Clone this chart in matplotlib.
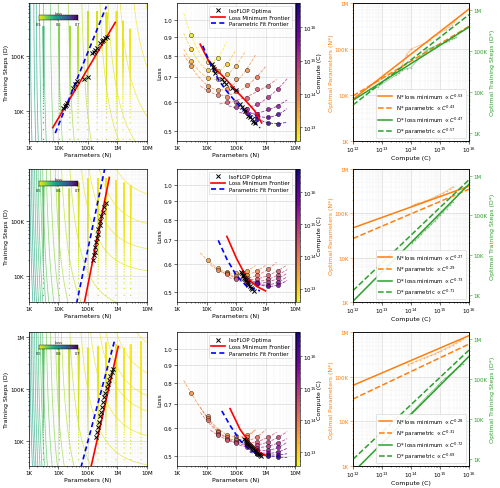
import numpy as np
import matplotlib
matplotlib.use("Agg")
import matplotlib.pyplot as plt
from matplotlib.colors import LogNorm, Normalize
from matplotlib.cm import ScalarMappable
from matplotlib.ticker import FuncFormatter, FixedLocator, NullFormatter

ORANGE = "#ff7f0e"
GREEN = "#2ca02c"

# ---------------- shared ----------------
FIT_C = [1e12, 1e16]          # compute at which the fitted lines are read
EVAL_EVERY = 1500             # checkpoint interval of the training runs
COMPUTE_RANGE = [3.8e12, 5.4e16]

# ---------------- experiment 1 (top row) ----------------
r1_run_N = [3.2e3, 1.1e4, 2.5e4, 4.7e4, 1.0e5, 2.1e5, 4.3e5, 9.4e5, 1.55e6, 2.7e6]
r1_run_D = [3.4e5, 3.4e5, 3.4e5, 3.4e5, 6.3e5, 6.3e5, 6.0e5, 6.3e5, 4.2e5, 3.0e5]
r1_surface = [0.459, 13.5, 0.40, 0.54, 0.30]      # E, A, alpha, B, beta
r1_levels = [0.49, 0.50, 0.517, 0.54, 0.56, 0.63, 0.714, 0.806, 0.90, 1.0,
             1.073, 1.137, 1.19, 1.274]
r1_cnorm = [0.46, 2.2]
r1_left_ylim = [2.8e3, 9e5]
r1_left_loss_N = [6.6e3, 8.5e5]
r1_left_loss_D = [4.9e3, 4.0e5]
r1_left_par_N = [8.0e3, 4.25e5]
r1_left_par_D = [3.9e3, 7.8e5]
r1_N_loss = [8.1e3, 7.4e5]
r1_N_par = [9.6e3, 3.1e5]
r1_D_loss = [6.4e3, 3.9e5]
r1_D_par = [4.9e3, 7.8e5]
r1_exps = ["0.53", "0.43", "0.47", "0.57"]
r1_opt_C = [3.5e12, 4.5e12, 5.5e12, 7e12, 3e13, 4e13, 5e13, 7e13, 1e14,
            3.5e14, 4.5e14, 5.5e14, 7e14, 1.6e15, 2e15, 2.5e15, 3e15, 3.6e15]
r1_opt_N = [1.5e4, 1.7e4, 1.85e4, 2e4, 3.3e4, 3.8e4, 4.5e4, 7.5e4, 1e5,
            1.4e5, 1.6e5, 1.8e5, 2e5, 2.65e5, 3e5, 3.4e5, 3.9e5, 4.45e5]
r1_opt_D = [1.1e4, 1.2e4, 1.25e4, 1.35e4, 2.6e4, 3e4, 3.4e4, 3.8e4, 4e4,
            1.1e5, 1.18e5, 1.25e5, 1.35e5, 1.67e5, 1.8e5, 1.95e5, 2.05e5, 2.2e5]
r1_opt_L = [0.76, 0.745, 0.735, 0.72, 0.69, 0.68, 0.67, 0.655, 0.645,
            0.59, 0.58, 0.575, 0.565, 0.55, 0.545, 0.538, 0.53, 0.525]
r1_iso_C = [5e12, 1e13, 2e13, 5e13, 1e14, 3e14, 1e15, 3e15, 1e16, 3e16]
r1_iso_N = [[3e3, 1.1e4, 2.4e4],
            [3e3, 1.1e4, 2.4e4, 4.9e4],
            [3e3, 1.1e4, 2.4e4, 4.9e4, 1e5],
            [3e3, 1.1e4, 2.4e4, 4.9e4, 1e5, 2.3e5],
            [1.1e4, 2.4e4, 4.9e4, 1e5, 2.3e5, 5.2e5],
            [4.9e4, 1e5, 2.3e5, 5.2e5, 1.2e6],
            [1e5, 2.3e5, 5.2e5, 1.2e6, 2.7e6],
            [2.3e5, 5.2e5, 1.2e6, 2.7e6],
            [5.2e5, 1.2e6, 2.7e6],
            [5.2e5, 1.2e6, 2.7e6]]
r1_iso_L = [[0.91, 0.77, 0.79],
            [0.835, 0.73, 0.725, 0.76],
            [0.775, 0.695, 0.69, 0.715, 0.75],
            [0.75, 0.66, 0.645, 0.65, 0.69, 0.73],
            [0.645, 0.625, 0.62, 0.64, 0.665, 0.70],
            [0.60, 0.60, 0.615, 0.65, 0.66],
            [0.58, 0.575, 0.59, 0.62, 0.65],
            [0.56, 0.555, 0.575, 0.585],
            [0.55, 0.545, 0.555],
            [0.54, 0.527, 0.524]]
r1_mid_loss_N = [6.1e3, 1.17e4, 2.25e4, 4.9e4, 1.06e5, 2.3e5, 4.4e5, 7.4e5]
r1_mid_loss_L = [0.859, 0.775, 0.73, 0.686, 0.64, 0.60, 0.566, 0.526]
r1_mid_par_N = [7.5e3, 1.34e4, 2.5e4, 4.9e4, 1.07e5, 2.3e5, 6.5e5]
r1_mid_par_L = [0.85, 0.76, 0.69, 0.64, 0.595, 0.56, 0.51]

# ---------------- experiment 2 (middle row) ----------------
r2_run_N = [3.2e3, 1.1e4, 2.4e4, 4.9e4, 1.0e5, 2.25e5, 4.1e5, 9e5, 1.7e6, 2.8e6]
r2_run_D = [4.7e5, 3.9e5, 3.9e5, 5e5, 6e5, 6e5, 6e5, 5.5e5, 5e5, 4.5e5]
r2_surface = [0.48, 25.0, 0.60, 0.50, 0.245]
r2_levels = [0.504, 0.512, 0.521, 0.531, 0.555, 0.582, 0.611, 0.64, 0.67,
             0.702, 0.726, 0.751, 0.771, 0.796, 0.821, 0.844, 0.872]
r2_cnorm = [0.49, 1.34]
r2_left_ylim = [3.4e3, 9e5]
r2_left_loss_N = [7.6e4, 5.35e5]
r2_left_loss_D = [3.2e3, 6.3e5]
r2_left_par_N = [4.2e4, 3.8e5]
r2_left_par_D = [3.2e3, 9.5e5]
r2_N_loss = [4.7e4, 4.1e5]
r2_N_par = [2.7e4, 3.5e5]
r2_D_loss = [6.8e2, 6.2e5]
r2_D_par = [1.26e3, 8.0e5]
r2_exps = ["0.27", "0.29", "0.73", "0.71"]
r2_opt_C = [1.1e14, 1.4e14, 1.8e14, 2.3e14, 3e14, 4e14, 5e14, 6.5e14, 8e14,
            1e15, 1.3e15, 1.7e15, 2.2e15, 2.8e15]
r2_opt_N = [1.5e5, 1.6e5, 1.7e5, 1.75e5, 1.9e5, 2e5, 2.15e5, 2.3e5, 2.5e5,
            2.65e5, 2.9e5, 3.2e5, 3.6e5, 4e5]
r2_opt_D = [2e4, 2.4e4, 2.8e4, 3.4e4, 4.2e4, 5e4, 6e4, 7.2e4, 8.5e4,
            1e5, 1.25e5, 1.5e5, 1.85e5, 2.2e5]
r2_opt_L = [0.57, 0.565, 0.56, 0.555, 0.55, 0.545, 0.54, 0.535, 0.53,
            0.525, 0.52, 0.515, 0.51, 0.505]
r2_iso_C = [3e13, 6e13, 1.2e14, 2.5e14, 5e14, 1e15, 2.5e15, 6e15]
r2_iso_N = [[1.1e4, 2.4e4, 4.9e4, 1e5, 2.3e5],
            [2.4e4, 4.9e4, 1e5, 2.3e5, 5.2e5],
            [4.9e4, 1e5, 2.3e5, 5.2e5, 1.2e6],
            [1e5, 2.3e5, 5.2e5, 1.2e6, 2.7e6],
            [2.3e5, 5.2e5, 1.2e6, 2.7e6],
            [5.2e5, 1.2e6, 2.7e6],
            [5.2e5, 1.2e6, 2.7e6],
            [5.2e5, 1.2e6, 2.7e6]]
r2_iso_L = [[0.615, 0.584, 0.57, 0.565, 0.575],
            [0.578, 0.565, 0.555, 0.56, 0.575],
            [0.562, 0.55, 0.548, 0.56, 0.58],
            [0.545, 0.54, 0.545, 0.56, 0.575],
            [0.535, 0.535, 0.545, 0.56],
            [0.53, 0.535, 0.548],
            [0.528, 0.525, 0.535],
            [0.53, 0.52, 0.525]]
r2_mid_loss_N = [4.9e4, 1.05e5, 2.3e5, 5e5, 1e6]
r2_mid_loss_L = [0.718, 0.622, 0.55, 0.52, 0.505]
r2_mid_par_N = [2.5e4, 4.9e4, 1e5, 2.3e5, 6.5e5]
r2_mid_par_L = [0.70, 0.62, 0.56, 0.52, 0.505]

# ---------------- experiment 3 (bottom row) ----------------
r3_run_N = [3.2e3, 1.1e4, 2.4e4, 4.9e4, 1.0e5, 2.25e5, 4.1e5, 9e5, 1.7e6, 2.8e6, 6.3e6]
r3_run_D = [6e5, 6e5, 6e5, 6e5, 6e5, 6.5e5, 7.5e5, 7e5, 6e5, 7e5, 8e5]
r3_surface = [0.47, 20.0, 0.55, 0.45, 0.25]
r3_levels = [0.488, 0.494, 0.50, 0.505, 0.515, 0.531, 0.56, 0.593, 0.626,
             0.659, 0.692, 0.728, 0.754, 0.781, 0.803, 0.829, 0.856, 0.88, 0.908]
r3_cnorm = [0.48, 1.44]
r3_left_ylim = [3.4e3, 1.2e6]
r3_left_loss_N = [1.28e5, 1.07e6]
r3_left_loss_D = [3.2e3, 6.5e5]
r3_left_par_N = [5.9e4, 8.3e5]
r3_left_par_D = [3.2e3, 9.0e5]
r3_N_loss = [6.5e4, 8.5e5]
r3_N_par = [3.2e4, 5.5e5]
r3_D_loss = [4.5e2, 3.75e5]
r3_D_par = [9.6e2, 5.4e5]
r3_exps = ["0.28", "0.31", "0.72", "0.69"]
r3_opt_C = [8e13, 1.1e14, 1.5e14, 2e14, 2.7e14, 3.6e14, 4.8e14, 6.5e14,
            8.5e14, 1.1e15, 1.5e15, 2e15, 2.7e15, 3.6e15, 4.8e15, 6e15]
r3_opt_N = [1.9e5, 2.1e5, 2.25e5, 2.45e5, 2.65e5, 2.85e5, 3.05e5, 3.3e5,
            3.6e5, 3.9e5, 4.3e5, 4.7e5, 5.2e5, 5.8e5, 6.4e5, 7e5]
r3_opt_D = [1.2e4, 1.5e4, 1.9e4, 2.4e4, 3e4, 3.7e4, 4.6e4, 5.7e4,
            7e4, 8.5e4, 1.05e5, 1.25e5, 1.5e5, 1.8e5, 2.1e5, 2.4e5]
r3_opt_L = [0.56, 0.555, 0.55, 0.545, 0.54, 0.537, 0.533, 0.53,
            0.527, 0.523, 0.52, 0.516, 0.512, 0.508, 0.505, 0.502]
r3_iso_C = [5e13, 8e13, 1.5e14, 3e14, 6e14, 1.2e15, 2.5e15, 5e15, 1.2e16, 3e16]
r3_iso_N = [[3e3, 1.1e4, 2.4e4, 4.9e4, 1e5, 2.3e5],
            [1.1e4, 2.4e4, 4.9e4, 1e5, 2.3e5],
            [1.1e4, 2.4e4, 4.9e4, 1e5, 2.3e5, 5.2e5],
            [2.4e4, 4.9e4, 1e5, 2.3e5, 5.2e5, 1.2e6],
            [1e5, 2.3e5, 5.2e5, 1.2e6, 2.7e6],
            [2.3e5, 5.2e5, 1.2e6, 2.7e6],
            [5.2e5, 1.2e6, 2.7e6],
            [5.2e5, 1.2e6, 2.7e6],
            [5.2e5, 1.2e6, 2.7e6],
            [5.2e5, 1.2e6, 2.7e6]]
r3_iso_L = [[0.75, 0.65, 0.59, 0.575, 0.57, 0.572],
            [0.64, 0.585, 0.565, 0.56, 0.565],
            [0.63, 0.578, 0.56, 0.555, 0.555, 0.565],
            [0.575, 0.555, 0.548, 0.545, 0.55, 0.565],
            [0.545, 0.537, 0.538, 0.55, 0.565],
            [0.532, 0.528, 0.535, 0.545],
            [0.522, 0.52, 0.53],
            [0.515, 0.51, 0.515],
            [0.51, 0.505, 0.505],
            [0.508, 0.502, 0.498]]
r3_mid_loss_N = [6.3e4, 1.37e5, 3e5, 6.5e5, 1e6]
r3_mid_loss_L = [0.68, 0.595, 0.544, 0.512, 0.503]
r3_mid_par_N = [3.3e4, 6.3e4, 1.37e5, 3e5, 6.5e5]
r3_mid_par_L = [0.67, 0.61, 0.554, 0.52, 0.508]


def row(p):
    g = globals()
    keys = ["run_N", "run_D", "surface", "levels", "cnorm", "left_ylim",
            "left_loss_N", "left_loss_D", "left_par_N", "left_par_D",
            "N_loss", "N_par", "D_loss", "D_par", "exps", "opt_C", "opt_N",
            "opt_D", "opt_L", "iso_C", "iso_N", "iso_L", "mid_loss_N",
            "mid_loss_L", "mid_par_N", "mid_par_L"]
    return {k: g[p + "_" + k] for k in keys}


ROWS = [row("r1"), row("r2"), row("r3")]

FS_TICK = 4.0
FS_LAB = 4.5
FS_LEG = 3.9
CNORM = LogNorm(*COMPUTE_RANGE)
CMAP_C = plt.get_cmap("plasma_r")


def kfmt(v, pos):
    if v >= 1e6:
        return "%gM" % (v / 1e6)
    if v >= 1e3:
        return "%gK" % (v / 1e3)
    return "%g" % v


def power_line(C, ends):
    # straight line in log-log through the fitted values at FIT_C
    slope = np.log10(ends[1] / ends[0]) / np.log10(FIT_C[1] / FIT_C[0])
    return ends[0] * (C / FIT_C[0]) ** slope


def style(ax):
    ax.tick_params(which="both", labelsize=FS_TICK, width=0.4, pad=1.2)
    ax.tick_params(which="major", length=2)
    ax.tick_params(which="minor", length=1)
    ax.grid(True, which="major", color="0.82", lw=0.4)
    ax.grid(True, which="minor", color="0.93", lw=0.3)
    for s in ax.spines.values():
        s.set_linewidth(0.5)


def left_panel(ax, r):
    E, A, al, B, be = r["surface"]
    n = np.logspace(3, 7, 260)
    d = np.logspace(3.2, 6.3, 260)
    NN, DD = np.meshgrid(n, d)
    LL = E + A * NN ** -al + B * DD ** -be
    norm = Normalize(*r["cnorm"])
    ax.contour(NN, DD, LL, levels=sorted(r["levels"]), cmap="viridis_r",
               norm=norm, linewidths=0.55, alpha=0.75)
    for nr, dm in zip(r["run_N"], r["run_D"]):
        steps = np.arange(EVAL_EVERY, dm + 1, EVAL_EVERY)
        loss = E + A * nr ** -al + B * steps ** -be
        ax.scatter(np.full(steps.shape, nr), steps, c=loss, cmap="viridis_r",
                   norm=norm, s=0.9, lw=0, zorder=2)
    ax.plot(r["left_loss_N"], r["left_loss_D"], color="red", lw=1.2, zorder=4)
    ax.plot(r["left_par_N"], r["left_par_D"], color="blue", lw=1.2,
            ls=(0, (3, 2)), zorder=4)
    ax.scatter(r["opt_N"], r["opt_D"], marker="x", color="black", s=9,
               lw=0.7, zorder=5)
    ax.set_xscale("log")
    ax.set_yscale("log")
    ax.set_xlim(1e3, 1e7)
    ax.set_ylim(*r["left_ylim"])
    ax.xaxis.set_major_locator(FixedLocator([1e3, 1e4, 1e5, 1e6, 1e7]))
    ax.xaxis.set_major_formatter(FuncFormatter(kfmt))
    ax.yaxis.set_major_formatter(FuncFormatter(kfmt))
    ax.xaxis.set_minor_formatter(NullFormatter())
    ax.yaxis.set_minor_formatter(NullFormatter())
    ax.set_xlabel("Parameters (N)", fontsize=FS_LAB, labelpad=1)
    ax.set_ylabel("Training Steps (D)", fontsize=FS_LAB, labelpad=1)
    style(ax)
    cax = ax.inset_axes([0.085, 0.875, 0.33, 0.035])
    cb = plt.colorbar(ScalarMappable(Normalize(0.5, 0.7), "viridis_r"),
                      cax=cax, orientation="horizontal")
    cb.set_ticks([0.5, 0.6, 0.7])
    cb.ax.tick_params(labelsize=2.5, length=1, width=0.3, pad=0.5)
    cb.outline.set_linewidth(0.3)
    cb.ax.set_title("Loss", fontsize=2.5, pad=0.8)


def middle_panel(ax, cax, r):
    for C, ns, ls in zip(r["iso_C"], r["iso_N"], r["iso_L"]):
        col = CMAP_C(CNORM(C))
        x = np.log10(ns)
        coef = np.polyfit(x, ls, 2)
        xx = np.linspace(x.min() - 0.25, x.max() + 0.3, 60)
        ax.plot(10 ** xx, np.polyval(coef, xx), ls="--", color=col, lw=0.6,
                alpha=0.8, zorder=2)
        ax.scatter(ns, ls, color=col, edgecolor="black", lw=0.35, s=9,
                   alpha=0.85, zorder=3)
    ax.scatter(r["opt_N"], r["opt_L"], marker="x", color="black", s=9,
               lw=0.7, zorder=5, label="IsoFLOP Optima")
    ax.plot(r["mid_loss_N"], r["mid_loss_L"], color="red", lw=1.2, zorder=4,
            label="Loss Minimum Frontier")
    ax.plot(r["mid_par_N"], r["mid_par_L"], color="blue", lw=1.2,
            ls=(0, (3, 2)), zorder=4, label="Parametric Fit Frontier")
    ax.set_xscale("log")
    ax.set_yscale("log")
    ax.set_xlim(1e3, 1e7)
    ax.set_ylim(0.47, 1.11)
    ax.xaxis.set_major_locator(FixedLocator([1e3, 1e4, 1e5, 1e6, 1e7]))
    ax.xaxis.set_major_formatter(FuncFormatter(kfmt))
    ax.xaxis.set_minor_formatter(NullFormatter())
    ax.yaxis.set_major_locator(FixedLocator([0.5, 0.6, 0.7, 0.8, 0.9, 1.0]))
    ax.yaxis.set_major_formatter(FuncFormatter(lambda v, p: "%.1f" % v))
    ax.yaxis.set_minor_formatter(NullFormatter())
    ax.set_xlabel("Parameters (N)", fontsize=FS_LAB, labelpad=1)
    ax.set_ylabel("Loss", fontsize=FS_LAB, labelpad=1)
    style(ax)
    ax.legend(loc="upper right", fontsize=FS_LEG, framealpha=0.9,
              borderpad=0.4, labelspacing=0.3, handlelength=2.5,
              edgecolor="0.8", fancybox=True).get_frame().set_linewidth(0.4)
    cb = plt.colorbar(ScalarMappable(CNORM, CMAP_C), cax=cax)
    cb.ax.tick_params(labelsize=FS_TICK, width=0.4, length=1.5, pad=0.8)
    cb.ax.tick_params(which="minor", length=1, width=0.3)
    cb.outline.set_linewidth(0.4)
    cb.set_label("Compute (C)", fontsize=FS_LAB, labelpad=0.5)


def right_panel(ax, r):
    C = np.logspace(12, 16, 50)
    ax2 = ax.twinx()
    e = r["exps"]
    h1, = ax.plot(C, power_line(C, r["N_loss"]), color=ORANGE, lw=1.1,
                  label="N* loss minimum $\\propto C^{%s}$" % e[0])
    h2, = ax.plot(C, power_line(C, r["N_par"]), color=ORANGE, lw=1.1,
                  ls="--", label="N* parametric $\\propto C^{%s}$" % e[1])
    ax.plot(r["opt_C"], r["opt_N"], color=ORANGE, lw=0.6, alpha=0.5,
            marker="+", ms=2, mew=0.4)
    h3, = ax2.plot(C, power_line(C, r["D_loss"]), color=GREEN, lw=1.1,
                   label="D* loss minimum $\\propto C^{%s}$" % e[2])
    h4, = ax2.plot(C, power_line(C, r["D_par"]), color=GREEN, lw=1.1,
                   ls="--", label="D* parametric $\\propto C^{%s}$" % e[3])
    ax2.plot(r["opt_C"], r["opt_D"], color=GREEN, lw=0.6, alpha=0.5,
             marker="+", ms=2, mew=0.4)
    for a, lim in ((ax, (1e3, 1e6)), (ax2, (650, 1.5e6))):
        a.set_xscale("log")
        a.set_yscale("log")
        a.set_ylim(*lim)
        a.yaxis.set_major_locator(FixedLocator([1e3, 1e4, 1e5, 1e6]))
        a.yaxis.set_major_formatter(FuncFormatter(kfmt))
        a.yaxis.set_minor_formatter(NullFormatter())
    ax.set_xlim(1e12, 1e16)
    ax.xaxis.set_major_locator(FixedLocator([1e12, 1e13, 1e14, 1e15, 1e16]))
    ax.xaxis.set_minor_formatter(NullFormatter())
    style(ax)
    ax2.tick_params(which="both", labelsize=FS_TICK, width=0.4, pad=1.2,
                    colors=GREEN)
    ax2.tick_params(which="major", length=2)
    ax2.tick_params(which="minor", length=1)
    ax.tick_params(axis="y", which="both", colors=ORANGE)
    ax.tick_params(axis="x", pad=0.8)
    ax.set_xlabel("Compute (C)", fontsize=FS_LAB, labelpad=0.5)
    ax.set_ylabel("Optimal Parameters (N*)", fontsize=FS_LAB, color=ORANGE,
                  labelpad=0.3)
    ax2.set_ylabel("Optimal Training Steps (D*)", fontsize=FS_LAB,
                   color=GREEN, labelpad=2)
    for s in ax2.spines.values():
        s.set_linewidth(0.5)
    leg = ax2.legend(handles=[h1, h2, h3, h4], loc="lower right",
                     fontsize=FS_LEG, framealpha=0.9, borderpad=0.4,
                     labelspacing=0.35, handlelength=2.5, edgecolor="0.8")
    leg.get_frame().set_linewidth(0.4)


fig = plt.figure(figsize=(5.0, 4.89), dpi=100)
row_y = [(0.7096, 0.2822), (0.3804, 0.2720), (0.0450, 0.2730)]
for r, (b, h) in zip(ROWS, row_y):
    left_panel(fig.add_axes([0.057, b, 0.237, h]), r)
    middle_panel(fig.add_axes([0.354, b, 0.236, h]),
                 fig.add_axes([0.591, b, 0.008, h]), r)
    right_panel(fig.add_axes([0.706, b, 0.232, h]), r)

fig.savefig("out.png", dpi=100)
